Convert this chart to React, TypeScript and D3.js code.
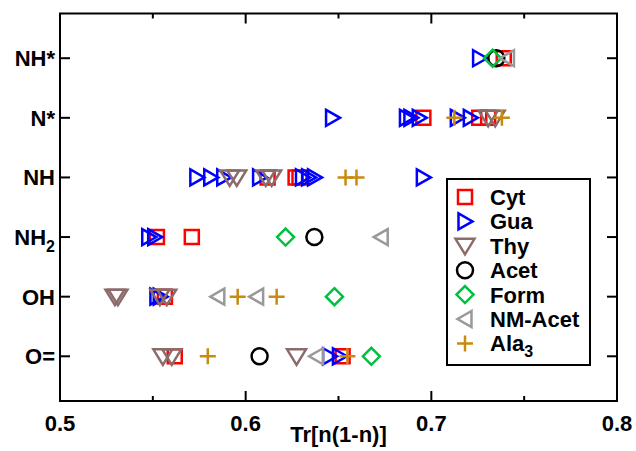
import React from "react";
import * as d3 from "d3";

const categories = ["O=", "OH", "NH2", "NH", "N*", "NH*"];
const xTicks = [0.5, 0.6, 0.7, 0.8];
const xMinorTicks = [0.55, 0.65, 0.75];

// each series: row index (category) + value
const cytRows = [5, 4, 4, 4, 3, 3, 3, 2, 2, 1, 0, 0];
const cytValues = [0.739, 0.6957, 0.7258, 0.7306, 0.6118, 0.6269, 0.629, 0.5522, 0.571, 0.5565, 0.5618, 0.6522];

const guaRows = [5, 4, 4, 4, 4, 4, 4, 3, 3, 3, 3, 3, 3, 3, 3, 2, 2, 1, 1, 0, 0];
const guaValues = [0.726, 0.6468, 0.6866, 0.689, 0.6935, 0.714, 0.721, 0.5737, 0.5812, 0.5882, 0.6075, 0.6306, 0.6339, 0.6371, 0.6957, 0.5478, 0.551, 0.5522, 0.554, 0.6452, 0.6505];

const thyRows = [4, 4, 3, 3, 3, 3, 1, 1, 1, 1, 0, 0, 0];
const thyValues = [0.7306, 0.7344, 0.5914, 0.5952, 0.6108, 0.614, 0.5296, 0.5312, 0.5538, 0.5575, 0.5554, 0.5602, 0.6274];

const acetRows = [5, 2, 0];
const acetValues = [0.735, 0.637, 0.6075];

const formRows = [5, 2, 1, 0];
const formValues = [0.733, 0.6215, 0.6478, 0.6677];

const nmAcetRows = [5, 2, 1, 1, 0];
const nmAcetValues = [0.741, 0.673, 0.585, 0.6059, 0.6382];

const ala3Rows = [4, 4, 3, 3, 1, 1, 0, 0];
const ala3Values = [0.7124, 0.738, 0.6538, 0.6597, 0.5957, 0.6167, 0.5796, 0.6548];

const seriesNames = ["Cyt", "Gua", "Thy", "Acet", "Form", "NM-Acet", "Ala3"];
const seriesColors = ["#ff0000", "#0000ff", "#8c6b6b", "#000000", "#00c040", "#999999", "#c88a10"];
const seriesShapes = ["square", "right", "down", "circle", "diamond", "left", "plus"];
const seriesRows = [cytRows, guaRows, thyRows, acetRows, formRows, nmAcetRows, ala3Rows];
const seriesValues = [cytValues, guaValues, thyValues, acetValues, formValues, nmAcetValues, ala3Values];

const W = 636, H = 451;
const L = 60, R = 617, T = 13.5, B = 401;
const FONT = "'Liberation Sans', Arial, Helvetica, sans-serif";

function markerPath(shape: string): string {
  switch (shape) {
    case "square": return "M-7,-7H7V7H-7Z";
    case "right": return "M-6.5,-8L7.5,0L-6.5,8Z";
    case "left": return "M6.5,-8L-7.5,0L6.5,8Z";
    case "down": return "M-9.5,-7H9.5L0,8.5Z";
    case "diamond": return "M0,-8.5L8.5,0L0,8.5L-8.5,0Z";
    case "plus": return "M-8,0H8M0,-8V8";
    default: return "";
  }
}

function Marker({ shape, color, x, y }: { shape: string; color: string; x: number; y: number }) {
  if (shape === "circle") {
    return <circle cx={x} cy={y} r={8} fill="none" stroke={color} strokeWidth={2.5} />;
  }
  return (
    <path
      d={markerPath(shape)}
      transform={`translate(${x},${y})`}
      fill="none"
      stroke={color}
      strokeWidth={2.5}
      strokeLinejoin="miter"
    />
  );
}

export default function App() {
  const x = d3.scaleLinear().domain([0.5, 0.8]).range([L, R]);
  const y = d3.scaleLinear().domain([-0.75, 5.75]).range([B, T]);

  const legX = 447, legY = 179, legW = 143, legH = 186;
  const legStep = 24.4;

  return (
    <svg width={W} height={H} style={{ display: "block", position: "absolute", left: 0, top: 0 }} fontFamily={FONT}>
      <rect x={0} y={0} width={W} height={H} fill="#fff" />
      {/* data */}
      {seriesNames.map((name, si) => (
        <g key={name}>
          {seriesValues[si].map((v, i) => (
            <Marker key={i} shape={seriesShapes[si]} color={seriesColors[si]} x={x(v)} y={y(seriesRows[si][i])} />
          ))}
        </g>
      ))}
      {/* frame */}
      <rect x={L} y={T} width={R - L} height={B - T} fill="none" stroke="#000" strokeWidth={2} />
      {/* x ticks */}
      {xTicks.map((t) => (
        <g key={t}>
          <line x1={x(t)} x2={x(t)} y1={B} y2={B - 10} stroke="#000" strokeWidth={2} />
          <line x1={x(t)} x2={x(t)} y1={T} y2={T + 10} stroke="#000" strokeWidth={2} />
          <text x={x(t)} y={431} textAnchor="middle" fontSize={22} fontWeight="bold">{t.toFixed(1)}</text>
        </g>
      ))}
      {xMinorTicks.map((t) => (
        <g key={t}>
          <line x1={x(t)} x2={x(t)} y1={B} y2={B - 5} stroke="#000" strokeWidth={2} />
          <line x1={x(t)} x2={x(t)} y1={T} y2={T + 5} stroke="#000" strokeWidth={2} />
        </g>
      ))}
      {/* y ticks */}
      {categories.map((c, i) => (
        <g key={c}>
          <line x1={L} x2={L + 10} y1={y(i)} y2={y(i)} stroke="#000" strokeWidth={2} />
          <line x1={R} x2={R - 10} y1={y(i)} y2={y(i)} stroke="#000" strokeWidth={2} />
          {c === "NH2" ? (
            <text x={55} y={y(i) + 8} textAnchor="end" fontSize={22} fontWeight="bold">
              NH<tspan fontSize={16} dy={7}>2</tspan>
            </text>
          ) : (
            <text x={55} y={y(i) + 8} textAnchor="end" fontSize={22} fontWeight="bold">{c}</text>
          )}
        </g>
      ))}
      <text x={(L + R) / 2} y={442} textAnchor="middle" fontSize={22} fontWeight="bold">Tr[n(1-n)]</text>
      {/* legend */}
      <rect x={legX} y={legY} width={legW} height={legH} fill="#fff" stroke="#000" strokeWidth={2} />
      {seriesNames.map((name, si) => {
        const ly = 197 + si * legStep;
        return (
          <g key={name}>
            <Marker shape={seriesShapes[si]} color={seriesColors[si]} x={465} y={ly} />
            {name === "Ala3" ? (
              <text x={490} y={ly + 8} fontSize={22} fontWeight="bold">
                Ala<tspan fontSize={16} dy={6}>3</tspan>
              </text>
            ) : (
              <text x={490} y={ly + 8} fontSize={22} fontWeight="bold">{name}</text>
            )}
          </g>
        );
      })}
    </svg>
  );
}
